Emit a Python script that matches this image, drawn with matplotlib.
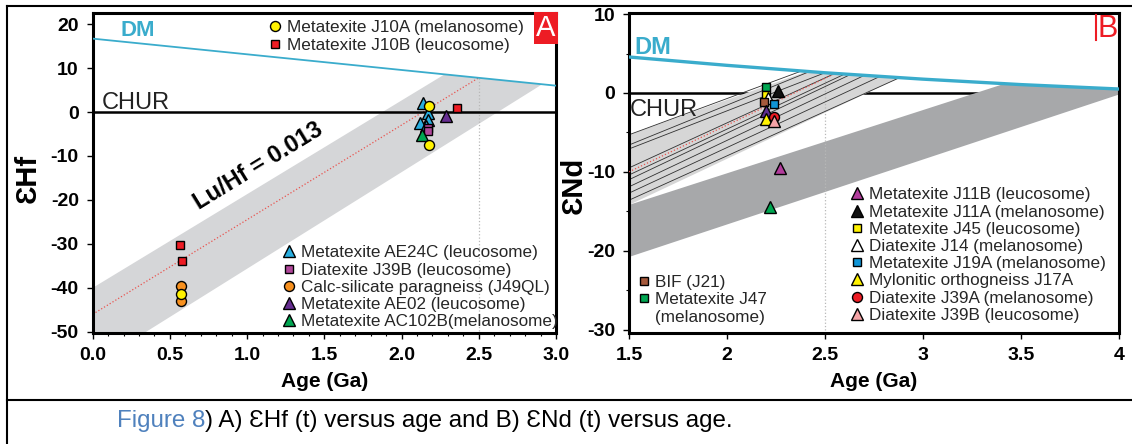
import matplotlib
matplotlib.use('Agg')
import matplotlib.pyplot as plt
from matplotlib.lines import Line2D

plt.rcParams['font.family'] = ['Liberation Sans', 'DejaVu Sans']
plt.rcParams['axes.unicode_minus'] = False

# ---------------- Panel A : eHf vs age ----------------
hf_dm_age = [0.0, 3.0]
hf_dm_eps = [16.7, 6.0]
hf_band_age = [0.0, 2.28, 2.91, 0.0]
hf_band_eps = [-40.0, 8.6, 6.3, -57.6]
hf_trend_age = [0.0, 2.5]
hf_trend_eps = [-46.0, 7.8]
hf_tdm_age = 2.5

j10a_age = [2.18, 2.18, 0.574]
j10a_hf = [1.4, -7.4, -41.3]
j10b_age = [2.36, 0.565, 0.58]
j10b_hf = [1.0, -30.2, -34.0]
ae24c_age = [2.14, 2.17, 2.17, 2.12, 2.16]
ae24c_hf = [2.0, -0.2, -1.8, -2.6, -3.2]
j39b_age = [2.17, 2.17]
j39b_hf = [-3.6, -4.4]
j49ql_age = [0.57, 0.57]
j49ql_hf = [-39.6, -43.0]
ae02_age = [2.29]
ae02_hf = [-1.0]
ac102b_age = [2.13]
ac102b_hf = [-5.2]

# ---------------- Panel B : eNd vs age ----------------
nd_dm_age = [1.5, 2.0, 2.5, 3.0, 3.5, 4.0]
nd_dm_eps = [4.56, 3.5, 2.56, 1.75, 1.06, 0.5]
nd_light_age = [1.5, 2.41, 2.88, 1.5]
nd_light_eps = [-5.3, 2.75, 1.93, -14.2]
nd_dark_age = [1.5, 3.42, 3.7, 4.0, 4.0, 1.5]
nd_dark_eps = [-14.2, 1.2, 0.82, 0.5, -0.2, -20.8]
nd_model_start = [-5.3, -6.6, -7.1, -9.5, -10.4, -11.0, -11.9, -12.7, -13.6]
nd_model_end_age = [2.38, 2.42, 2.50, 2.55, 2.60, 2.63, 2.70, 2.78, 2.88]
nd_model_end_eps = [2.78, 2.70, 2.56, 2.48, 2.39, 2.34, 2.22, 2.09, 1.93]
nd_trend_age = [1.5, 2.55]
nd_trend_eps = [-10.0, 2.45]
nd_tdm_age = 2.5

j11b_age = [2.27]
j11b_nd = [-9.5]
j11a_age = [2.26]
j11a_nd = [0.3]
j45_age = [2.20]
j45_nd = [-0.2]
j14_age = [2.21]
j14_nd = [-0.6]
j19a_age = [2.24]
j19a_nd = [-1.4]
j17a_age = [2.20]
j17a_nd = [-3.3]
j39a_age = [2.24]
j39a_nd = [-3.0]
j39bn_age = [2.24]
j39bn_nd = [-3.6]
bif_age = [2.19]
bif_nd = [-1.15]
j47_age = [2.20]
j47_nd = [0.72]
other_tri_age = [2.20, 2.22]
other_tri_nd = [-2.3, -14.5]
other_tri_col = ['#5b2c8f', '#00a651']

DM_COL = '#3aaccc'
TXT = '#262626'

W, H = 1132, 444
fig = plt.figure(figsize=(W / 100, H / 100), dpi=100)


def px_axes(l, t, r, b):
    return fig.add_axes([l / W, 1 - b / H, (r - l) / W, (b - t) / H])


def style(ax):
    for s in ax.spines.values():
        s.set_linewidth(2.2)
    ax.tick_params(which='major', direction='out', length=4, width=1,
                   pad=6, labelsize=14)
    ax.tick_params(which='minor', direction='out', length=2, width=0.8)
    for lab in ax.get_xticklabels() + ax.get_yticklabels():
        lab.set_fontweight('bold')


def pt(ax, x, y, m, c, ms, label=None, z=5):
    h, = ax.plot(x, y, ls='none', marker=m, ms=ms, mfc=c, mec='black',
                 mew=1.0, label=label, zorder=z)
    return h


# ---------------- A ----------------
ax = px_axes(92.7, 12.7, 556, 332.7)
ax.set_xlim(0, 3.0)
ax.set_ylim(-50.2, 22.6)
ax.fill(hf_band_age, hf_band_eps, color='#d5d6d8', lw=0, zorder=1)
ax.plot(hf_trend_age, hf_trend_eps, color='#e8544f', ls=':', lw=0.9, zorder=2)
ax.plot([hf_tdm_age, hf_tdm_age], [hf_trend_eps[1], -50.2], color='#b8b8b8',
        ls=':', lw=0.9, zorder=2)
ax.plot(hf_dm_age, hf_dm_eps, color=DM_COL, lw=1.3, zorder=3)
ax.axhline(0, color='black', lw=1.8, zorder=3)
ax.text(0.06, 0.8, 'CHUR', fontsize=17, color='#222222', va='baseline', zorder=4)
ax.text(0.18, 17.4, 'DM', fontsize=16, fontweight='bold', color=DM_COL,
        va='baseline', zorder=4)
ax.text(1.07, -12.3, 'Lu/Hf = 0.013', fontsize=17, fontweight='bold',
        rotation=31.5, ha='center', va='center', rotation_mode='anchor', zorder=4)

h_j49 = pt(ax, j49ql_age, j49ql_hf, 'o', '#f7901e', 7.2, 'Calc-silicate paragneiss (J49QL)')
h_j10a = pt(ax, j10a_age, j10a_hf, 'o', '#fff200', 7.2, 'Metatexite J10A (melanosome)', z=6)
h_j10b = pt(ax, j10b_age, j10b_hf, 's', '#ed1c24', 6.0, 'Metatexite J10B (leucosome)')
h_ae24 = pt(ax, ae24c_age, ae24c_hf, '^', '#29aee0', 8.5, 'Metatexite AE24C (leucosome)')
h_j39 = pt(ax, j39b_age, j39b_hf, 's', '#b1479b', 6.0, 'Diatexite J39B (leucosome)')
h_ae02 = pt(ax, ae02_age, ae02_hf, '^', '#662d91', 8.5, 'Metatexite AE02 (leucosome)')
h_ac = pt(ax, ac102b_age, ac102b_hf, '^', '#00a651', 8.5, 'Metatexite AC102B(melanosome)')

ax.set_xticks([0.0, 0.5, 1.0, 1.5, 2.0, 2.5, 3.0])
ax.set_xticks([i / 10 for i in range(31)], minor=True)
ax.set_xticklabels(['0.0', '0.5', '1.0', '1.5', '2.0', '2.5', '3.0'])
ax.set_yticks([-50, -40, -30, -20, -10, 0, 10, 20])
ax.set_xlabel('Age (Ga)', fontsize=15, fontweight='bold', labelpad=6)
style(ax)

lkw = dict(frameon=False, fontsize=12.3, handlelength=0.8, handletextpad=0.3,
           labelspacing=0.13, borderpad=0, borderaxespad=0, loc='upper left',
           labelcolor=TXT)
leg = ax.legend(handles=[h_j10a, h_j10b], bbox_to_anchor=(0.379, 0.976), **lkw)
ax.add_artist(leg)
ax.legend(handles=[h_ae24, h_j39, h_j49, h_ae02, h_ac],
          bbox_to_anchor=(0.409, 0.273), **lkw)
ax.text(0.999, 0.997, 'A', transform=ax.transAxes, ha='right', va='top',
        fontsize=21, color='white', zorder=10,
        bbox=dict(fc='#ed1c24', ec='none', pad=1.5))

# ---------------- B ----------------
bx = px_axes(629, 13.3, 1119, 332.7)
bx.set_xlim(1.5, 4.0)
bx.set_ylim(-30.4, 10.1)
bx.axhline(0, color='black', lw=1.8, zorder=1)
bx.fill(nd_light_age, nd_light_eps, color='#d6d6d6', lw=0, zorder=1.5)
bx.fill(nd_dark_age, nd_dark_eps, color='#a7a8aa', lw=0, zorder=2)
for y0, xa, ya in zip(nd_model_start, nd_model_end_age, nd_model_end_eps):
    bx.plot([1.5, xa], [y0, ya], color='#303030', lw=0.6, zorder=2.5)
bx.plot(nd_trend_age, nd_trend_eps, color='#e8544f', ls=':', lw=0.9, zorder=2.6)
bx.plot([nd_tdm_age, nd_tdm_age], [2.0, -30.4], color='#b8b8b8', ls=':',
        lw=0.9, zorder=2)
bx.plot(nd_dm_age, nd_dm_eps, color=DM_COL, lw=2.4, zorder=3)
bx.text(1.505, -2.9, 'CHUR', fontsize=17, color='#222222', va='baseline', zorder=4)
bx.text(1.528, 4.9, 'DM', fontsize=17, fontweight='bold', color=DM_COL,
        va='baseline', zorder=4)

h_j47 = pt(bx, j47_age, j47_nd, 's', '#00a651', 6.0, 'Metatexite J47')
h_j45 = pt(bx, j45_age, j45_nd, 's', '#fff200', 6.0, 'Metatexite J45 (leucosome)')
h_j11a = pt(bx, j11a_age, j11a_nd, '^', '#111111', 8.5, 'Metatexite J11A (melanosome)')
h_j14 = pt(bx, j14_age, j14_nd, '^', 'white', 8.5, 'Diatexite J14 (melanosome)')
h_bif = pt(bx, bif_age, bif_nd, 's', '#a65a3c', 6.0, 'BIF (J21)')
h_j19 = pt(bx, j19a_age, j19a_nd, 's', '#0f95d7', 6.0, 'Metatexite J19A (melanosome)')
for xa, ya, c in zip(other_tri_age, other_tri_nd, other_tri_col):
    pt(bx, [xa], [ya], '^', c, 8.5)
h_j17 = pt(bx, j17a_age, j17a_nd, '^', '#fff200', 8.5, 'Mylonitic orthogneiss J17A')
h_j39a = pt(bx, j39a_age, j39a_nd, 'o', '#ed1c24', 7.2, 'Diatexite J39A (melanosome)')
h_j39b = pt(bx, j39bn_age, j39bn_nd, '^', '#f4a3a6', 8.5, 'Diatexite J39B (leucosome)')
h_j11b = pt(bx, j11b_age, j11b_nd, '^', '#b23c9c', 8.5, 'Metatexite J11B (leucosome)')

bx.set_xticks([1.5, 2.0, 2.5, 3.0, 3.5, 4.0])
bx.set_xticklabels(['1.5', '2', '2.5', '3', '3.5', '4'])
bx.set_yticks([-30, -20, -10, 0, 10])
bx.set_yticks([-25, -15, -5, 5], minor=True)
bx.set_xlabel('Age (Ga)', fontsize=15, fontweight='bold', labelpad=6)
style(bx)

legb = bx.legend(handles=[h_j11b, h_j11a, h_j45, h_j14, h_j19, h_j17, h_j39a, h_j39b],
                 bbox_to_anchor=(0.451, 0.455), **lkw)
bx.add_artist(legb)
blank = Line2D([], [], ls='none', marker='None', label='(melanosome)')
bx.legend(handles=[h_bif, h_j47, blank], bbox_to_anchor=(0.0157, 0.180), **lkw)
bx.text(0.997, 0.997, 'B', transform=bx.transAxes, ha='right', va='top',
        fontsize=22, color='#ed1c24', zorder=10)
bx.plot([0.954, 0.954], [0.915, 0.995], transform=bx.transAxes,
        color='#ed1c24', lw=1.5, zorder=10)

# axis titles (epsilon)
fig.text(28 / W, 1 - 178 / H, 'ƐHf', rotation=90, fontsize=21,
         fontweight='bold', ha='center', va='center')
fig.text(574 / W, 1 - 185 / H, 'ƐNd', rotation=90, fontsize=21,
         fontweight='bold', ha='center', va='center')

# table frame and caption
fig.add_artist(Line2D([7 / W, 1], [1 - 6 / H, 1 - 6 / H], color='black', lw=1.5))
fig.add_artist(Line2D([7 / W, 7 / W], [0, 1 - 6 / H], color='black', lw=1.5))
fig.add_artist(Line2D([7 / W, 1], [1 - 400 / H, 1 - 400 / H], color='black', lw=1.5))
t1 = fig.text(117 / W, 1 - 421 / H, 'Figure 8', fontsize=17.4, color='#4f81bd',
              va='center')
ax.annotate(') A) ƐHf (t) versus age and B) ƐNd (t) versus age.', xy=(1, 0.5),
            xycoords=t1, va='center', ha='left', fontsize=17.4, color='black',
            annotation_clip=False)

fig.savefig('out.png', dpi=100)
